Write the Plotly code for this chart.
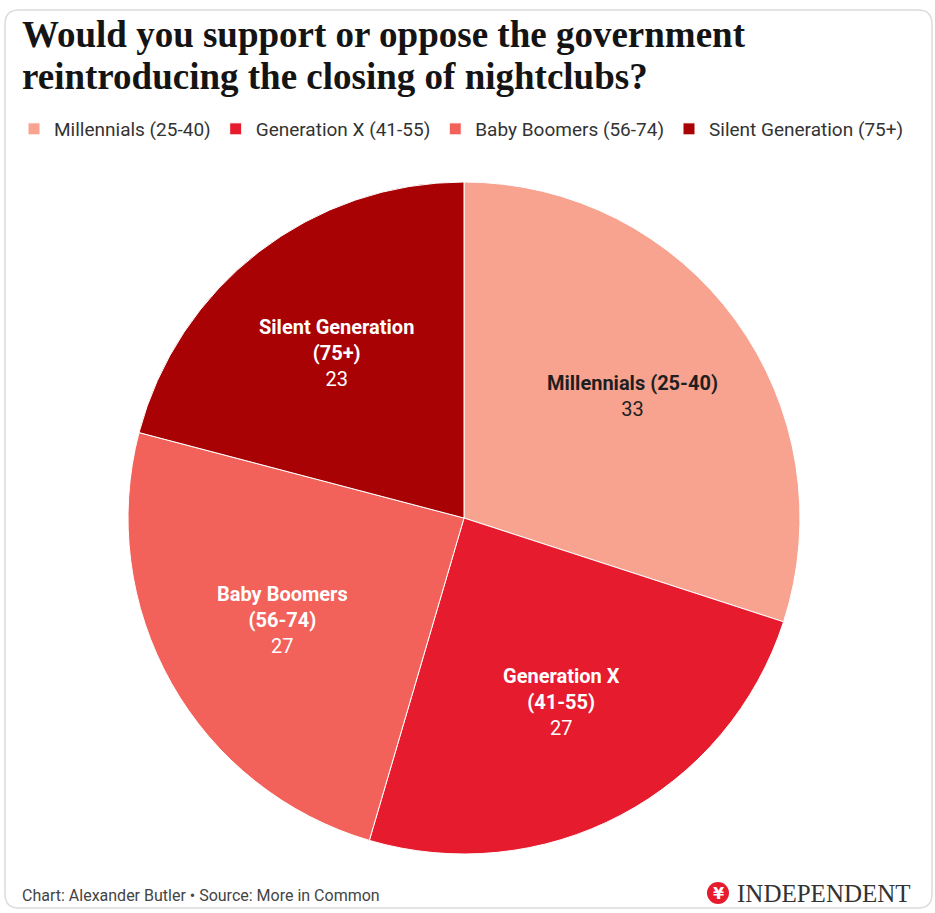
import math
import plotly.graph_objects as go

# Survey responses by generation
generations = ["Millennials (25-40)", "Generation X (41-55)", "Baby Boomers (56-74)", "Silent Generation (75+)"]
slice_labels = ["Millennials (25-40)", "Generation X<br>(41-55)", "Baby Boomers<br>(56-74)", "Silent Generation<br>(75+)"]
values = [33, 27, 27, 23]
colors = ["#F8A290", "#E61B2E", "#F2625B", "#A80204"]
label_colors = ["#1f1f1f", "#ffffff", "#ffffff", "#ffffff"]

title_lines = ["Would you support or oppose the government",
               "reintroducing the closing of nightclubs?"]
credit = "Chart: Alexander Butler • Source: More in Common"

W, H = 935, 913
cx, cy, R = 464, 518, 336  # pie centre / radius in pixels

fig = go.Figure()
fig.add_trace(go.Pie(
    labels=generations,
    values=values,
    sort=False,
    direction="clockwise",
    rotation=0,
    marker=dict(colors=colors, line=dict(color="#ffffff", width=1)),
    textinfo="none",
    hoverinfo="label+value",
    domain=dict(x=[(cx - R) / W, (cx + R) / W], y=[1 - (cy + R) / H, 1 - (cy - R) / H]),
))

# In-slice labels placed at the mid-angle of each slice
total = sum(values)
start = 0.0
for lab, v, c in zip(slice_labels, values, label_colors):
    mid = start + v / total * 360 / 2
    start += v / total * 360
    a = math.radians(mid)
    px = cx + 0.62 * R * math.sin(a)
    py = cy - 0.62 * R * math.cos(a)
    fig.add_annotation(
        x=px / W, y=1 - py / H, xref="paper", yref="paper",
        xanchor="center", yanchor="middle",
        text=f"<b>{lab}</b><br>{v}", showarrow=False,
        font=dict(family="Roboto, Noto Sans, sans-serif", size=20, color=c),
        align="center",
    )

# Headline, two lines
for i, line in enumerate(title_lines):
    fig.add_annotation(
        x=20 / W, y=1 - (34 + 43 * i) / H, xref="paper", yref="paper",
        xanchor="left", yanchor="middle", text=f"<b>{line}</b>", showarrow=False,
        font=dict(family="Liberation Serif, serif", size=37, color="#141414"),
    )

# Footer and masthead
fig.add_annotation(
    x=20 / W, y=1 - 895 / H, xref="paper", yref="paper", xanchor="left", yanchor="middle",
    text=credit, showarrow=False,
    font=dict(family="Roboto, sans-serif", size=16, color="#444444"),
)
fig.add_annotation(
    x=913 / W, y=1 - 893 / H, xref="paper", yref="paper", xanchor="right", yanchor="middle",
    text="INDEPENDENT", showarrow=False,
    font=dict(family="Liberation Serif, serif", size=25, color="#333333"),
)
fig.add_shape(type="circle", xref="x", yref="y",
              x0=707, x1=729, y0=882, y1=904,
              fillcolor="#E61B2E", line=dict(width=0))
fig.add_annotation(
    x=718 / W, y=1 - 893.5 / H, xref="paper", yref="paper", xanchor="center", yanchor="middle",
    text="<b>¥</b>", showarrow=False,
    font=dict(family="DejaVu Sans, sans-serif", size=16, color="#ffffff"),
)

# Card outline
r = 14
x0, y0, x1, y1 = 5, 10, 932, 908
path = (f"M {x0+r},{y0} L {x1-r},{y0} Q {x1},{y0} {x1},{y0+r} L {x1},{y1-r} Q {x1},{y1} {x1-r},{y1} "
        f"L {x0+r},{y1} Q {x0},{y1} {x0},{y1-r} L {x0},{y0+r} Q {x0},{y0} {x0+r},{y0} Z")
fig.add_shape(type="path", xref="x", yref="y", path=path, line=dict(color="#dcdcdc", width=1.5), layer="below")

fig.update_layout(
    width=W, height=H,
    margin=dict(l=0, r=0, t=0, b=0),
    paper_bgcolor="#ffffff", plot_bgcolor="rgba(0,0,0,0)",
    xaxis=dict(range=[0, W], visible=False, fixedrange=True),
    yaxis=dict(range=[H, 0], visible=False, fixedrange=True),
    legend=dict(
        orientation="h", x=14 / W, xanchor="left", y=1 - 110 / H, yanchor="top",
        font=dict(family="Roboto, sans-serif", size=19, color="#333333"),
        itemclick=False, itemdoubleclick=False,
        tracegroupgap=0,
    ),
    showlegend=True,
)

fig.write_html("out.html")
